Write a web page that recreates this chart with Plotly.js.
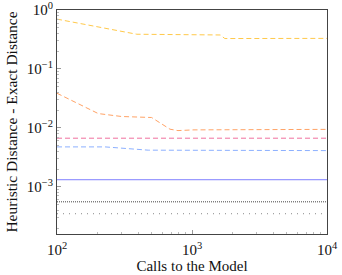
<!DOCTYPE html>
<html><head><meta charset="utf-8">
<script src="https://cdn.plot.ly/plotly-3.0.1.min.js"></script>
<style>html,body{margin:0;padding:0;background:#fff}#c{width:342px;height:275px}</style>
</head><body><div id="c"></div>
<script>
// Series data (calls to the model vs. heuristic - exact distance)
const yellowX = [100, 200, 390, 1620, 1750, 10000];
const yellowY = [0.70, 0.52, 0.388, 0.377, 0.328, 0.33];
const orangeX = [100, 202, 301, 502, 687, 787, 1016, 10000];
const orangeY = [0.0387, 0.0175, 0.0156, 0.0150, 0.0095, 0.0090, 0.00925, 0.00944];
const pinkX = [100, 10000];
const pinkY = [0.00669, 0.00669];
const lightBlueX = [100, 227, 474, 10000];
const lightBlueY = [0.00476, 0.00476, 0.00419, 0.00412];
const solidX = [100, 10000];
const solidY = [0.00132, 0.00132];
const darkDotX = [100, 10000];
const darkDotY = [0.000557, 0.000557];
const lightDotX = [100, 10000];
const lightDotY = [0.00035, 0.00035];

const xTickVals = [100, 1000, 10000];
const xTickText = ['10<sup>2</sup>', '10<sup>3</sup>', '10<sup>4</sup>'];
const yTickVals = [0.001, 0.01, 0.1, 1];
const yTickText = ['10<sup>−3</sup>', '10<sup>−2</sup>', '10<sup>−1</sup>', '10<sup>0</sup>'];

const mk = (x, y, color, dash, w) => ({x, y, type:'scatter', mode:'lines', line:{color, dash, width:w||1}, showlegend:false, hoverinfo:'skip'});
const traces = [
  mk(yellowX, yellowY, '#ffc94a', '5px,3px'),
  mk(orangeX, orangeY, '#ffa366', '5px,3px'),
  mk(pinkX, pinkY, '#f0709e', '5px,3px'),
  mk(lightBlueX, lightBlueY, '#8cb0ff', '5px,3px'),
  mk(solidX, solidY, '#7f7fff', 'solid'),
  mk(darkDotX, darkDotY, '#444444', '1px,1px'),
  mk(lightDotX, lightDotY, '#888888', '1px,5px')
];
const fam = '"Liberation Serif", "DejaVu Serif", serif';
const font = {family:fam, size:13, color:'#111'};
const axCommon = {
  type:'log', showgrid:false, zeroline:false, showline:true, mirror:true,
  linecolor:'#444', linewidth:1, ticks:'inside', ticklen:4, tickcolor:'#999',
  tickmode:'array', tickfont:{family:fam, size:15, color:'#111'}, ticklabeloverflow:'allow',
  minor:{ticks:'inside', ticklen:2, tickcolor:'#bbb', tickmode:'linear', dtick:'D1', showgrid:false}
};
const layout = {
  width:342, height:275, margin:{l:57, r:15, t:10, b:41},
  paper_bgcolor:'#fff', plot_bgcolor:'#fff', font,
  xaxis: Object.assign({}, axCommon, {range:[2,4], tickvals:xTickVals, ticktext:xTickText, ticklabelstandoff:2,
    title:{text:'Calls to the Model', font:{family:fam, size:15, color:'#111'}, standoff:2}}),
  yaxis: Object.assign({}, axCommon, {range:[-3.8,0], tickvals:yTickVals, ticktext:yTickText,
    title:{text:'Heuristic Distance - Exact Distance', font:{family:fam, size:15.5, color:'#111'}, standoff:5}})
};
Plotly.newPlot('c', traces, layout, {displayModeBar:false, staticPlot:true});
</script></body></html>
